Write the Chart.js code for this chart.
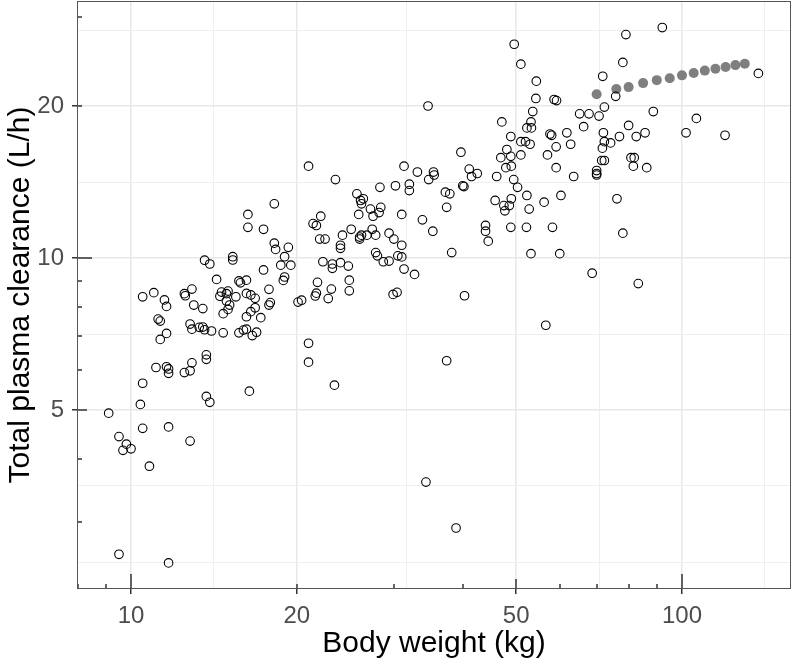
<!DOCTYPE html>
<html>
<head>
<meta charset="utf-8">
<script src="https://cdn.jsdelivr.net/npm/chart.js@4.4.1/dist/chart.umd.min.js"></script>
<style>
  html, body { margin: 0; padding: 0; background: #fff; }
</style>
</head>
<body>
<canvas id="chart" width="793" height="662"></canvas>
<script>
// observed body weight (kg) and total plasma clearance (L/h)
const weightKg = [
  49.6, 51.0, 54.4, 54.3, 53.6, 34.6, 47.1, 53.2, 52.3, 53.3,
  48.9, 51.0, 52.0, 53.0, 39.7, 48.1, 46.9, 48.9, 51.0, 47.9,
  49.0, 46.1, 49.5, 50.3, 21.0, 23.5, 31.3, 33.1, 35.4, 35.5,
  34.7, 28.3, 30.2, 32.0, 32.0, 41.1, 42.5, 41.5, 40.0, 40.2,
  37.2, 37.9, 25.7, 52.3, 92.1, 79.1, 78.1, 71.8, 137.6, 75.8,
  58.6, 59.2, 72.3, 88.7, 65.2, 67.8, 70.7, 106.2, 66.3, 80.0,
  57.6, 58.0, 61.8, 72.0, 85.7, 82.6, 101.7, 119.7, 77.0, 59.1,
  62.8, 72.3, 74.2, 71.7, 57.0, 80.8, 81.9, 72.3, 71.5, 81.6,
  86.3, 59.1, 63.6, 70.0, 70.0, 70.0, 60.3, 56.2, 76.2, 58.2,
  78.1, 60.0, 68.7, 83.3, 56.6, 26.1, 26.4, 26.2, 27.2, 28.4,
  28.2, 27.5, 25.9, 31.0, 22.1, 21.4, 21.7, 37.4, 33.8, 35.3,
  25.1, 24.2, 27.4, 27.8, 26.2, 26.0, 26.8, 26.0, 29.4, 30.0,
  31.0, 22.0, 22.5, 24.0, 24.0, 27.8, 28.0, 30.5, 31.0, 28.7,
  29.4, 31.3, 32.7, 22.3, 23.2, 23.2, 24.0, 24.8, 38.2, 44.0,
  44.0, 44.5, 45.8, 47.5, 47.7, 48.6, 49.0, 52.8, 48.9, 52.2,
  53.2, 40.3, 21.8, 23.1, 24.9, 24.9, 21.7, 21.6, 22.8, 29.9,
  30.4, 37.4, 23.4, 18.2, 16.3, 16.3, 17.4, 18.2, 18.3, 19.3,
  19.0, 18.7, 19.5, 17.4, 19.0, 18.9, 17.8, 17.9, 17.8, 20.4,
  20.1, 15.3, 15.3, 13.6, 13.9, 14.3, 15.7, 15.8, 16.2, 14.6,
  14.5, 15.0, 14.9, 15.5, 16.2, 16.5, 16.8, 14.9, 15.1, 15.0,
  14.7, 16.8, 16.5, 16.2, 17.2, 12.9, 12.5, 12.55, 13.0, 13.5,
  11.0, 10.5, 11.5, 11.6, 11.2, 11.3, 12.8, 12.9, 13.3, 13.5,
  13.6, 14.0, 14.7, 15.7, 16.0, 16.2, 16.6, 16.9, 11.6, 11.3,
  21.0, 21.0, 13.7, 13.7, 12.9, 12.8, 12.5, 11.1, 11.6, 11.7,
  11.7, 10.5, 16.4, 13.7, 13.9, 10.4, 9.11, 10.5, 11.7, 9.51,
  9.81, 9.67, 10.0, 12.8, 10.8, 9.51, 11.7, 34.3, 38.9
];
const clearanceLh = [
  26.5, 24.2, 22.4, 20.7, 19.5, 20.0, 18.6, 18.6, 18.1, 18.1,
  17.4, 17.0, 17.0, 16.8, 16.2, 16.4, 15.8, 15.9, 16.0, 15.1,
  15.2, 14.5, 14.3, 13.8, 15.2, 14.3, 15.2, 14.8, 14.8, 14.6,
  14.3, 13.8, 13.9, 14.0, 13.6, 15.0, 14.7, 14.5, 13.9, 13.85,
  13.5, 13.4, 13.4, 13.3, 28.6, 27.7, 24.4, 22.9, 23.2, 20.9,
  20.6, 20.5, 19.9, 19.5, 19.3, 19.3, 19.1, 18.9, 18.2, 18.3,
  17.6, 17.5, 17.7, 17.7, 17.7, 17.4, 17.7, 17.5, 17.4, 16.6,
  16.8, 17.0, 16.9, 16.5, 16.0, 15.8, 15.8, 15.6, 15.6, 15.2,
  15.1, 15.1, 14.5, 14.9, 14.7, 14.6, 13.3, 12.9, 13.1, 11.5,
  11.2, 10.2, 9.33, 8.90, 7.36, 13.0, 13.1, 12.8, 12.5, 12.6,
  12.3, 12.1, 12.2, 12.2, 12.1, 11.7, 11.6, 12.6, 11.9, 11.3,
  11.4, 11.1, 11.4, 11.1, 11.1, 11.0, 11.1, 10.9, 11.2, 10.9,
  10.6, 10.9, 10.9, 10.6, 10.45, 10.25, 10.1, 10.1, 10.05, 9.83,
  9.86, 9.51, 9.28, 9.83, 9.73, 9.54, 9.79, 9.64, 10.25, 11.6,
  11.3, 10.8, 13.0, 12.7, 12.4, 12.7, 13.1, 12.5, 11.5, 11.5,
  10.2, 8.42, 8.95, 8.68, 9.04, 8.61, 8.52, 8.41, 8.31, 8.47,
  8.55, 6.26, 5.60, 12.8, 12.2, 11.5, 11.4, 10.7, 10.4, 10.5,
  10.06, 9.68, 9.68, 9.47, 9.17, 9.03, 8.67, 8.16, 8.07, 8.25,
  8.18, 10.06, 9.91, 9.90, 9.73, 9.07, 9.01, 8.93, 9.04, 8.56,
  8.40, 8.60, 8.50, 8.38, 8.51, 8.45, 8.32, 8.22, 8.07, 7.91,
  7.76, 7.97, 7.83, 7.65, 7.62, 8.68, 8.50, 8.42, 8.07, 7.94,
  8.54, 8.38, 8.26, 8.02, 7.57, 7.50, 7.40, 7.23, 7.29, 7.30,
  7.21, 7.17, 7.11, 7.11, 7.20, 7.23, 7.02, 7.13, 7.09, 6.90,
  6.78, 6.22, 6.43, 6.30, 6.20, 5.98, 5.93, 6.07, 6.09, 6.03,
  5.91, 5.65, 5.45, 5.32, 5.18, 5.13, 4.93, 4.60, 4.63, 4.43,
  4.28, 4.16, 4.19, 4.34, 3.87, 2.59, 2.49, 3.60, 2.92
];

// model prediction (grey dots)
const predWeightKg = [70, 76, 80, 85, 90, 95, 100, 105, 110, 115, 120, 125, 130];
const predClearanceLh = [21.1, 21.6, 21.8, 22.2, 22.5, 22.7, 23.0, 23.25, 23.5, 23.7, 23.9, 24.1, 24.25];

// axis breaks (labelled) and the minor grid breaks in between
const xBreaks = [10, 20, 50, 100];
const xMinorBreaks = [14.14, 31.62, 70.71, 141.4];
const yBreaks = [5, 10, 20];
const yMinorBreaks = [2.5, 3.54, 7.07, 14.14, 28.28];

// log ticks along the inside of the panel
const xLogTicks = [8, 9, 10, 20, 30, 40, 50, 60, 70, 80, 90, 100];
const yLogTicks = [3, 4, 5, 6, 7, 8, 9, 10, 20, 30];

const FONT = '"Liberation Sans", Arial, Helvetica, sans-serif';

function logTickLength(v) {
    const lead = v / Math.pow(10, Math.floor(Math.log10(v) + 1e-9));
    if (Math.abs(lead - 1) < 1e-6) return 15;
    if (Math.abs(lead - 5) < 1e-6) return 10;
    return 5;
}

// panel border + inward log ticks
const panelFrame = {
    id: 'panelFrame',
    afterDraw(chart) {
        const { ctx, chartArea: a, scales } = chart;
        ctx.save();
        ctx.strokeStyle = '#333';
        ctx.lineWidth = 1.5;
        xLogTicks.forEach(v => {
            const px = Math.round(scales.x.getPixelForValue(v));
            ctx.beginPath();
            ctx.moveTo(px, a.bottom);
            ctx.lineTo(px, a.bottom - logTickLength(v));
            ctx.stroke();
        });
        yLogTicks.forEach(v => {
            const py = Math.round(scales.y.getPixelForValue(v));
            ctx.beginPath();
            ctx.moveTo(a.left, py);
            ctx.lineTo(a.left + logTickLength(v), py);
            ctx.stroke();
        });
        ctx.strokeStyle = '#555';
        ctx.lineWidth = 1;
        ctx.strokeRect(a.left + 0.5, a.top + 0.5, a.right - a.left - 1, a.bottom - a.top - 1);
        ctx.restore();
    }
};

function gridOpts(breaks) {
    return {
        color: c => (c.tick && breaks.includes(c.tick.value)) ? '#e8e8e8' : '#efefef',
        lineWidth: c => (c.tick && breaks.includes(c.tick.value)) ? 1.5 : 1,
        drawTicks: true,
        tickLength: 5,
        tickWidth: 1.5,
        tickColor: c => (c.tick && breaks.includes(c.tick.value)) ? '#333' : 'rgba(0,0,0,0)'
    };
}

new Chart(document.getElementById('chart'), {
    type: 'scatter',
    data: {
        datasets: [
            {
                label: 'Observed',
                data: weightKg.map((w, i) => ({ x: w, y: clearanceLh[i] })),
                pointStyle: 'circle',
                pointRadius: 4.3,
                pointBorderWidth: 1.1,
                pointBorderColor: '#000',
                pointBackgroundColor: 'rgba(0,0,0,0)'
            },
            {
                label: 'Predicted',
                data: predWeightKg.map((w, i) => ({ x: w, y: predClearanceLh[i] })),
                pointStyle: 'circle',
                pointRadius: 5,
                pointBorderWidth: 0,
                pointBackgroundColor: '#7f7f7f'
            }
        ]
    },
    options: {
        responsive: false,
        animation: false,
        devicePixelRatio: 1,
        layout: { autoPadding: false, padding: { left: 0, right: 2, top: 1, bottom: 0 } },
        plugins: {
            legend: { display: false },
            tooltip: { enabled: false }
        },
        scales: {
            x: {
                type: 'logarithmic',
                min: 7.98,
                max: 157.7,
                afterBuildTicks: s => { s.ticks = xBreaks.concat(xMinorBreaks).map(v => ({ value: v })); },
                afterFit: s => { s.height = 73; s.paddingLeft = 0; s.paddingRight = 0; },
                border: { display: false },
                grid: gridOpts(xBreaks),
                ticks: {
                    autoSkip: false,
                    maxRotation: 0,
                    padding: 8,
                    color: '#4d4d4d',
                    font: { family: FONT, size: 24 },
                    callback: v => xBreaks.includes(v) ? String(v) : ''
                },
                title: {
                    display: true,
                    text: 'Body weight (kg)',
                    color: '#000',
                    font: { family: FONT, size: 30 },
                    padding: { top: 0, bottom: 0 }
                }
            },
            y: {
                type: 'logarithmic',
                min: 2.211,
                max: 32.28,
                afterBuildTicks: s => { s.ticks = yBreaks.concat(yMinorBreaks).map(v => ({ value: v })); },
                afterFit: s => { s.width = 77; s.paddingTop = 0; s.paddingBottom = 0; },
                border: { display: false },
                grid: gridOpts(yBreaks),
                ticks: {
                    autoSkip: false,
                    padding: 8,
                    color: '#4d4d4d',
                    font: { family: FONT, size: 24 },
                    callback: v => yBreaks.includes(v) ? String(v) : ''
                },
                title: {
                    display: true,
                    text: 'Total plasma clearance (L/h)',
                    color: '#000',
                    font: { family: FONT, size: 30 },
                    padding: { top: 3, bottom: 0 }
                }
            }
        }
    },
    plugins: [panelFrame]
});
</script>
</body>
</html>
